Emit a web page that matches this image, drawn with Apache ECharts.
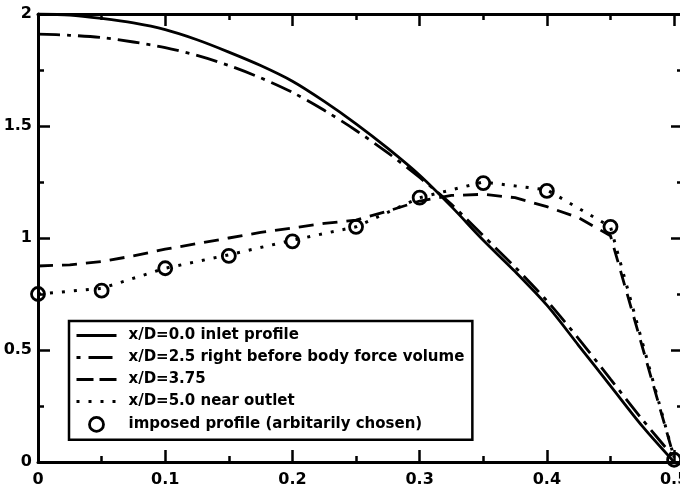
<!DOCTYPE html>
<html><head><meta charset="utf-8">
<script src="https://cdn.jsdelivr.net/npm/echarts@6/dist/echarts.min.js"></script>
<style>html,body{margin:0;padding:0;background:#fff}#c{width:680px;height:491px}</style>
</head><body><div id="c"></div>
<script>
// x positions (fraction of pipe)
const xFine = [0, 0.025, 0.05, 0.075, 0.1, 0.125, 0.15, 0.175, 0.2, 0.225, 0.25, 0.275, 0.3, 0.325, 0.35, 0.375, 0.4, 0.425, 0.45, 0.475, 0.5];
const xDashed = [0, 0.025, 0.05, 0.075, 0.1, 0.125, 0.15, 0.175, 0.2, 0.225, 0.25, 0.275, 0.3, 0.325, 0.35, 0.375, 0.4, 0.425, 0.45, 0.5];
const xCoarse = [0, 0.05, 0.1, 0.15, 0.2, 0.25, 0.3, 0.35, 0.4, 0.45, 0.5];

// series values
const inletProfile = [2.00, 1.995, 1.98, 1.96, 1.93, 1.885, 1.83, 1.77, 1.70, 1.61, 1.51, 1.40, 1.28, 1.14, 0.99, 0.85, 0.70, 0.52, 0.34, 0.16, 0.0];
const beforeBodyForce = [1.91, 1.905, 1.895, 1.875, 1.85, 1.815, 1.77, 1.715, 1.65, 1.57, 1.48, 1.38, 1.27, 1.15, 1.01, 0.87, 0.72, 0.55, 0.37, 0.19, 0.02];
const at375 = [0.875, 0.88, 0.895, 0.92, 0.95, 0.975, 1.0, 1.025, 1.045, 1.065, 1.08, 1.12, 1.165, 1.19, 1.195, 1.18, 1.14, 1.09, 1.01, 0.02];
const nearOutlet = [0.75, 0.775, 0.865, 0.925, 0.99, 1.05, 1.18, 1.25, 1.215, 1.05, 0.02];
const imposed = [0.75, 0.765, 0.865, 0.92, 0.985, 1.05, 1.18, 1.245, 1.21, 1.05, 0.01];

const names = ['x/D=0.0 inlet profile', 'x/D=2.5 right before body force volume', 'x/D=3.75', 'x/D=5.0 near outlet', 'imposed profile (arbitarily chosen)'];
const xTickLabels = ['0', '0.1', '0.2', '0.3', '0.4', '0.5'];

const pair = (xs, ys) => xs.map((x, i) => [x, ys[i]]);
const FONT = 'DejaVu Sans';

function xAxisCfg(pos, showLabel) {
  return {
    type: 'value', position: pos, min: 0, max: 0.507, interval: 0.1,
    axisLine: {show: true, onZero: false, lineStyle: {color: '#000', width: 3}},
    axisTick: {show: true, inside: true, length: 12, lineStyle: {color: '#000', width: 2.5}},
    minorTick: {show: true, splitNumber: 2, length: 6, lineStyle: {color: '#000', width: 2.5}},
    splitLine: {show: false},
    axisLabel: {
      show: showLabel, margin: 10, color: '#000', fontFamily: FONT, fontWeight: 'bold', fontSize: 16,
      showMaxLabel: false, hideOverlap: false,
      formatter: v => { const k = Math.round(v * 10); return Math.abs(v * 10 - k) < 1e-6 ? xTickLabels[k] : ''; }
    }
  };
}
function yAxisCfg(pos, showLabel) {
  return {
    type: 'value', position: pos, min: 0, max: 2, interval: 0.5,
    axisLine: {show: true, onZero: false, lineStyle: {color: '#000', width: 3}},
    axisTick: {show: true, inside: true, length: 12, lineStyle: {color: '#000', width: 2.5}},
    minorTick: {show: true, splitNumber: 2, length: 6, lineStyle: {color: '#000', width: 2.5}},
    splitLine: {show: false},
    axisLabel: {show: showLabel, margin: 6, color: '#000', fontFamily: FONT, fontWeight: 'bold', fontSize: 16}
  };
}

const hiddenSym = {color: 'rgba(0,0,0,0)', borderWidth: 0, opacity: 0};

const chart = echarts.init(document.getElementById('c'), null, {renderer: 'canvas'});
chart.setOption({
  animation: false,
  backgroundColor: '#fff',
  color: ['#000'],
  grid: {left: 38, right: -3, top: 14, bottom: 29, containLabel: false, outerBoundsMode: 'none'},
  xAxis: [xAxisCfg('bottom', true), xAxisCfg('top', false)],
  yAxis: [yAxisCfg('left', true), yAxisCfg('right', false)],
  legend: {
    orient: 'vertical', left: 69, top: 321,
    padding: [7, 8, 7, 6],
    borderColor: '#000', borderWidth: 2.5, backgroundColor: '#fff',
    itemWidth: 40, itemHeight: 14, itemGap: 7,
    textStyle: {color: '#000', fontFamily: FONT, fontWeight: 'bold', fontSize: 15, padding: [0, 0, 0, 7]},
    data: [
      {name: names[0], itemStyle: hiddenSym, lineStyle: {type: 'solid', width: 3}},
      {name: names[1], itemStyle: hiddenSym, lineStyle: {type: [4, 8, 24, 10], width: 3}},
      {name: names[2], itemStyle: hiddenSym, lineStyle: {type: [17, 6], width: 3}},
      {name: names[3], itemStyle: hiddenSym, lineStyle: {type: [3, 9], width: 3}},
      {name: names[4], itemStyle: {color: 'rgba(0,0,0,0)', borderColor: '#000', borderWidth: 2.8, opacity: 1}}
    ]
  },
  series: [
    {name: names[0], type: 'line', data: pair(xFine, inletProfile), symbol: 'none', smooth: 0.3,
     itemStyle: {color: '#000'}, lineStyle: {color: '#000', width: 2.8, type: 'solid'}},
    {name: names[1], type: 'line', data: pair(xFine, beforeBodyForce), symbol: 'none', smooth: 0.3,
     itemStyle: {color: '#000'}, lineStyle: {color: '#000', width: 2.8, type: [22, 7, 4, 7]}},
    {name: names[2], type: 'line', data: pair(xDashed, at375), symbol: 'none', smooth: false,
     itemStyle: {color: '#000'}, lineStyle: {color: '#000', width: 2.8, type: [15, 9]}},
    {name: names[3], type: 'line', data: pair(xCoarse, nearOutlet), symbol: 'none', smooth: false,
     itemStyle: {color: '#000'}, lineStyle: {color: '#000', width: 3, type: [3, 9]}},
    {name: names[4], type: 'scatter', data: pair(xCoarse, imposed), symbol: 'circle', symbolSize: 13,
     itemStyle: {color: 'rgba(0,0,0,0)', borderColor: '#000', borderWidth: 2.8, opacity: 1}, z: 5}
  ]
});
</script>
</body></html>
